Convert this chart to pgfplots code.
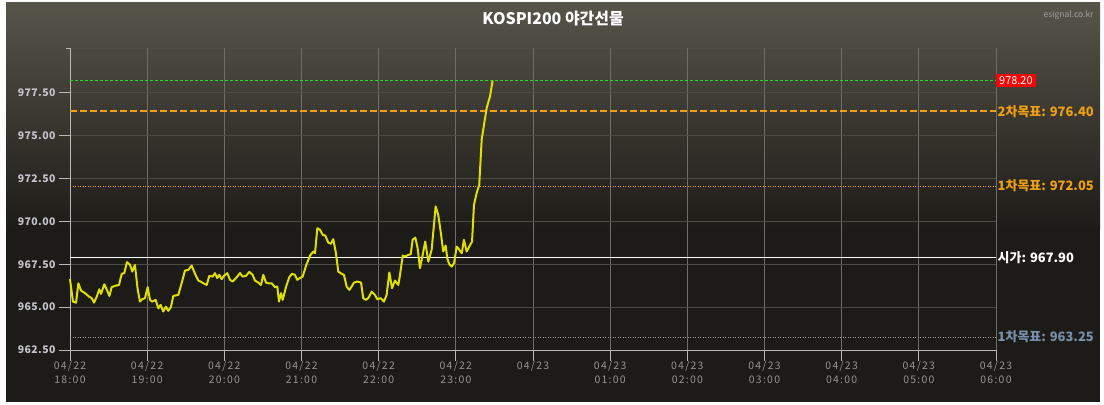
\documentclass[border=0pt]{standalone}
\usepackage{fontspec}
\setmainfont{Noto Sans CJK KR}
\newfontfamily\xtickfont[LetterSpace=12]{Noto Sans CJK KR}
\newfontfamily\ytickfont[LetterSpace=4]{Noto Sans CJK KR}
\usepackage{pgfplots}
\pgfplotsset{compat=1.18}
\definecolor{bgtop}{HTML}{57544A}
\definecolor{bgbot}{HTML}{1D1B17}
\definecolor{hgrid}{HTML}{4E4C46}
\definecolor{vgrid}{HTML}{6E6D68}
\definecolor{axgray}{HTML}{B8B8B8}
\definecolor{xlab}{HTML}{959595}
\definecolor{ylab}{HTML}{C4C4CC}
\definecolor{lineyel}{HTML}{E0E000}
\definecolor{tgtorange}{HTML}{F0A010}
\definecolor{tgtgreen}{HTML}{22DD22}
\definecolor{lowblue}{HTML}{7890AC}
\definecolor{lowgray}{HTML}{A0A0A0}
\definecolor{boxred}{HTML}{FF0000}
\begin{document}
\begin{tikzpicture}
\fill[white] (0bp,0bp) rectangle (1104bp,405bp);
\fill[bgbot] (6bp,3bp) rectangle (1100bp,402bp);
\shade[top color=bgtop,bottom color=bgbot] (6bp,175bp) rectangle (1100bp,402bp);
\node[font=\bfseries\fontsize{16}{19}\selectfont, text=white] at (553bp,386bp) {KOSPI200 야간선물};
\node[font=\fontsize{8.5}{10}\selectfont, text=lowgray, anchor=east] at (1097bp,390bp) {esignal.co.kr};
\draw[hgrid, line width=0.8bp] (70bp,357bp) -- (996bp,357bp);
\draw[axgray, line width=0.8bp] (66bp,357bp) -- (70bp,357bp);
\begin{axis}[
  at={(70bp,55bp)}, anchor=south west,
  width=926bp, height=302bp, scale only axis,
  xmin=0, xmax=720, ymin=962.5, ymax=980.1,
  axis x line*=bottom, axis y line*=left,
  axis line style={draw=axgray, line width=1bp},
  tick align=outside, major tick length=11bp,
  tick style={draw=axgray, line width=0.8bp},
  grid=major,
  x grid style={draw=vgrid, line width=0.8bp},
  y grid style={draw=hgrid, line width=0.8bp},
  xtick={0,60,...,720},
  xticklabels={{04/22\\18:00},{04/22\\19:00},{04/22\\20:00},{04/22\\21:00},{04/22\\22:00},{04/22\\23:00},{04/23},{04/23\\01:00},{04/23\\02:00},{04/23\\03:00},{04/23\\04:00},{04/23\\05:00},{04/23\\06:00}},
  xticklabel style={align=center, text=xlab, yshift=3bp, font=\xtickfont\fontsize{10.5}{14}\selectfont},
  ytick={962.5,965,967.5,970,972.5,975,977.5},
  /pgf/number format/assume math mode=true,
  yticklabel style={text=ylab, font=\ytickfont\bfseries\fontsize{10.5}{12}\selectfont,
    /pgf/number format/fixed, /pgf/number format/fixed zerofill, /pgf/number format/precision=2},
  clip=false,
]
\addplot[lowgray, line width=0.8bp, dash pattern=on 1bp off 1.5bp] coordinates {(0,963.25) (720,963.25)};
\addplot[white, line width=1.5bp] coordinates {(0,967.90) (720,967.90)};
\addplot[tgtorange, line width=0.8bp, dash pattern=on 1bp off 1.5bp] coordinates {(0,972.05) (720,972.05)};
\addplot[tgtorange, line width=2bp, dash pattern=on 7bp off 3bp] coordinates {(0,976.40) (720,976.40)};
\addplot[tgtgreen, line width=0.8bp, dash pattern=on 3bp off 2bp] coordinates {(0,978.20) (720,978.20)};
\addplot[lineyel, line width=2bp, line join=round] coordinates {
(0,966.63)(2.3,965.32)(4.7,965.26)(6.5,966.39)(8.6,965.96)(11.7,965.81)(14.8,965.61)(16.9,965.52)(18.7,965.26)(20.8,965.61)(22.8,966.04)(24.1,965.77)(26.7,966.33)(28.5,966.04)(30.6,965.65)(32.4,966.16)(35.0,966.24)(38.1,966.29)(40.2,966.94)(42.2,966.98)(44.3,967.62)(46.7,967.46)(48.4,967.07)(50.5,967.46)(52.6,966.04)(54.4,965.32)(56.2,965.46)(58.3,965.52)(60.4,966.16)(62.2,965.42)(64.0,965.32)(66.6,965.42)(68.7,964.93)(70.5,965.13)(72.5,964.74)(74.6,965.03)(76.4,964.78)(78.5,965.00)(80.3,965.65)(84.2,965.71)(86.8,966.39)(89.4,967.13)(92.0,967.17)(94.6,967.42)(97.2,966.94)(99.8,966.55)(102.4,966.45)(103.6,966.39)(106.3,966.29)(108.3,966.82)(110.9,966.78)(112.7,966.98)(114.5,966.69)(116.1,966.88)(117.9,966.63)(119.7,966.82)(122.3,966.98)(124.4,966.59)(126.5,966.49)(129.6,966.74)(132.2,966.98)(134.3,966.78)(136.8,966.82)(139.4,967.05)(142.0,966.88)(143.8,966.55)(146.4,966.43)(148.5,966.29)(150.3,966.88)(152.4,966.43)(154.2,966.39)(156.8,966.39)(159.4,966.16)(161.2,966.20)(162.5,965.32)(164.1,965.81)(165.4,965.42)(167.9,966.16)(170.5,966.74)(172.6,966.94)(174.9,966.88)(176.7,966.59)(178.8,966.69)(180.9,966.78)(183.5,967.40)(186.6,968.00)(189.2,968.24)(190.5,968.14)(192.3,969.60)(194.4,969.50)(196.5,969.21)(198.5,969.17)(200.8,968.76)(202.9,968.69)(204.7,968.96)(206.8,968.14)(208.6,967.07)(211.2,966.94)(213.0,966.88)(215.1,966.20)(217.2,966.00)(219.0,966.20)(220.8,966.43)(223.4,966.49)(226.3,966.43)(228.0,965.52)(230.1,965.42)(231.9,965.52)(234.6,965.90)(237.1,965.71)(238.9,965.46)(241.6,965.52)(244.1,965.32)(246.2,965.71)(248.3,967.02)(250.4,966.10)(252.7,966.55)(255.3,966.29)(256.6,966.88)(258.7,968.00)(260.5,967.95)(263.0,968.04)(264.9,968.08)(266.4,968.92)(268.5,969.05)(270.3,968.43)(272.1,967.27)(274.2,968.04)(276.2,968.82)(278.6,967.65)(281.2,968.34)(284.3,970.87)(286.3,970.38)(288.2,969.41)(290.2,968.24)(292.1,968.59)(293.3,967.85)(294.9,967.50)(296.8,967.36)(298.6,967.56)(300.7,968.53)(302.7,968.34)(304.6,968.14)(306.3,968.92)(308.4,968.24)(310.5,968.53)(312.6,968.82)(314.1,970.96)(316.2,971.65)(318.2,972.13)(320.1,974.76)(321.9,975.63)(324.0,976.61)(326.6,977.29)(328.6,978.20)
};
\node[anchor=west, fill=boxred, text=white, inner xsep=3bp, inner ysep=2.5bp, font=\fontsize{11}{12}\selectfont] at (axis cs:720,978.20) {978.20};
\node[anchor=west, inner sep=1.5bp, text=tgtorange, font=\bfseries\fontsize{13}{14}\selectfont] at (axis cs:720,976.40) {2차목표: 976.40};
\node[anchor=west, inner sep=1.5bp, text=tgtorange, font=\bfseries\fontsize{13}{14}\selectfont] at (axis cs:720,972.05) {1차목표: 972.05};
\node[anchor=west, inner sep=1.5bp, text=white, font=\bfseries\fontsize{13}{14}\selectfont] at (axis cs:720,967.90) {시가: 967.90};
\node[anchor=west, inner sep=1.5bp, text=lowblue, font=\bfseries\fontsize{13}{14}\selectfont] at (axis cs:720,963.25) {1차목표: 963.25};
\end{axis}
\end{tikzpicture}
\end{document}
